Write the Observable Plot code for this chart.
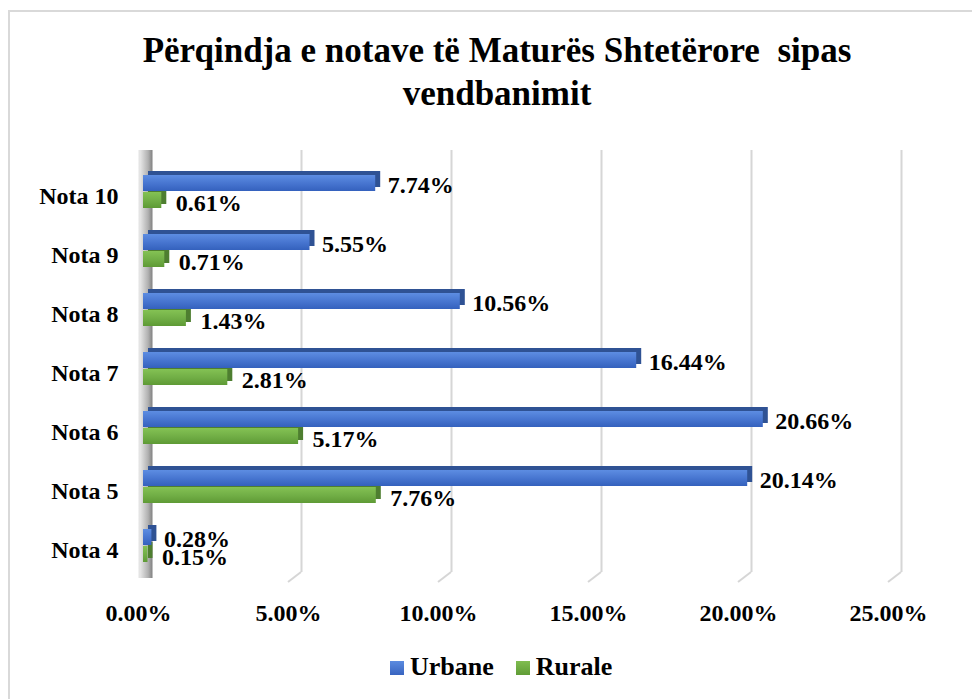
<!DOCTYPE html>
<html>
<head>
<meta charset="utf-8">
<script src="https://cdn.jsdelivr.net/npm/d3@7"></script>
<script src="https://cdn.jsdelivr.net/npm/@observablehq/plot@0.6"></script>
<style>
  body { margin: 0; background: #fff; width: 972px; height: 699px; overflow: hidden; position: relative; font-family: "Liberation Serif", "Times New Roman", serif; }
  #frame { position: absolute; left: 8px; top: 10px; width: 1000px; height: 720px; border-left: 2px solid #d9d9d9; border-top: 2px solid #d9d9d9; }
  #title { position: absolute; left: 11px; top: 29px; width: 972px; text-align: center; font-weight: bold; font-size: 35px; line-height: 43px; color: #000; }
  #chart { position: absolute; left: 0; top: 130px; }
  #legend { position: absolute; left: 390px; top: 652px; display: flex; align-items: center; font-weight: bold; font-size: 26px; line-height: 30px; color: #000; }
  .sw { width: 14px; height: 14px; display: inline-block; margin-right: 6px; margin-top: 2px; }
</style>
</head>
<body>
<div id="frame"></div>
<div id="title">Përqindja e notave të Maturës Shtetërore&nbsp; sipas<br>vendbanimit</div>
<div id="chart"></div>
<div id="legend">
  <span class="sw" style="background:linear-gradient(#5b8be0,#3864c0)"></span><span>Urbane</span>
  <span class="sw" style="background:linear-gradient(#80bd50,#609c36);margin-left:22px"></span><span>Rurale</span>
</div>
<script>
const categories = ["Nota 10", "Nota 9", "Nota 8", "Nota 7", "Nota 6", "Nota 5", "Nota 4"];
const urbane = [7.74, 5.55, 10.56, 16.44, 20.66, 20.14, 0.28];
const rurale = [0.61, 0.71, 1.43, 2.81, 5.17, 7.76, 0.15];
const xTicks = [0, 5, 10, 15, 20, 25];
const gridTicks = [5, 10, 15, 20, 25];

const data = categories.map((c, i) => ({nota: c, urbane: urbane[i], rurale: rurale[i]}));
const fmt = v => v.toFixed(2) + "%";

const hasAxisMarks = typeof Plot.axisX === "function";

const marks = [
  Plot.ruleX(gridTicks, {stroke: "#d6d6d6", strokeWidth: 2, dx: 8, insetTop: -9, insetBottom: 6}),
  Plot.ruleX([0], {stroke: "url(#gWall)", strokeWidth: 14, dx: 2, insetTop: -9, insetBottom: 0}),
  Plot.barX(data, {x: "rurale", y: "nota", insetTop: 30, insetBottom: 13, fill: "#4e7e30", dx: 5, dy: -4}),
  Plot.barX(data, {x: "urbane", y: "nota", insetTop: 13, insetBottom: 30, fill: "#2f5294", dx: 5, dy: -4}),
  Plot.barX(data, {x: "rurale", y: "nota", insetTop: 30, insetBottom: 13, fill: "url(#gGreen)"}),
  Plot.barX(data, {x: "urbane", y: "nota", insetTop: 13, insetBottom: 30, fill: "url(#gBlue)"}),
  Plot.text(data, {x: "urbane", y: "nota", text: d => fmt(d.urbane), dx: 12, dy: -7, textAnchor: "start", fontSize: 24, fontWeight: "bold", fill: "#000"}),
  Plot.text(data, {x: "rurale", y: "nota", text: d => fmt(d.rurale), dx: 14, dy: 11, textAnchor: "start", fontSize: 24, fontWeight: "bold", fill: "#000"})
];
if (hasAxisMarks) {
  marks.push(Plot.axisX({ticks: xTicks, tickFormat: fmt, tickSize: 0, tickPadding: 25, dx: -5, fontSize: 24, fontWeight: "bold", label: null}));
  marks.push(Plot.axisY({tickSize: 0, tickPadding: 25, dy: 4, fontSize: 24, fontWeight: "bold", label: null}));
}

const plot = Plot.plot({
  width: 972,
  height: 520,
  marginLeft: 143,
  marginRight: 79,
  marginTop: 29,
  marginBottom: 72,
  x: Object.assign({domain: [0, 25], label: null}, hasAxisMarks ? {axis: null} : {ticks: xTicks, tickFormat: fmt, tickSize: 0, tickPadding: 25}),
  y: Object.assign({domain: categories, padding: 0, label: null}, hasAxisMarks ? {axis: null} : {tickSize: 0, tickPadding: 25}),
  style: {fontFamily: "'Liberation Serif', 'Times New Roman', serif", fontSize: "24px", fontWeight: "bold", color: "#000", background: "transparent", overflow: "visible"},
  marks
});
document.getElementById("chart").appendChild(plot);

// gradients and 3D floor lines
const svg = d3.select(plot.tagName.toLowerCase() === "svg" ? plot : plot.querySelector("svg"));
const xs = plot.scale("x");
const X = v => xs.apply(v);
const defs = svg.insert("defs", ":first-child");
const gb = defs.append("linearGradient").attr("id", "gBlue").attr("x1", 0).attr("y1", 0).attr("x2", 0).attr("y2", 1);
gb.append("stop").attr("offset", "0%").attr("stop-color", "#5d8de2");
gb.append("stop").attr("offset", "55%").attr("stop-color", "#4674cf");
gb.append("stop").attr("offset", "100%").attr("stop-color", "#3461bd");
const gg = defs.append("linearGradient").attr("id", "gGreen").attr("x1", 0).attr("y1", 0).attr("x2", 0).attr("y2", 1);
gg.append("stop").attr("offset", "0%").attr("stop-color", "#84c254");
gg.append("stop").attr("offset", "55%").attr("stop-color", "#70ad45");
gg.append("stop").attr("offset", "100%").attr("stop-color", "#5e9a35");
const gw = defs.append("linearGradient").attr("id", "gWall").attr("gradientUnits", "userSpaceOnUse")
  .attr("x1", X(0) - 5).attr("y1", 0).attr("x2", X(0) + 9).attr("y2", 0);
gw.append("stop").attr("offset", "0%").attr("stop-color", "#e4e4e4");
gw.append("stop").attr("offset", "55%").attr("stop-color", "#b0b0b0");
gw.append("stop").attr("offset", "100%").attr("stop-color", "#6a6a6a");

const floor = svg.insert("g", "defs + *");
const yBack = 442, yFront = 452;
for (const t of gridTicks) {
  floor.append("line").attr("x1", X(t) + 8).attr("y1", yBack).attr("x2", X(t) - 5).attr("y2", yFront)
    .attr("stroke", "#d6d6d6").attr("stroke-width", 2);
}
</script>
</body>
</html>
